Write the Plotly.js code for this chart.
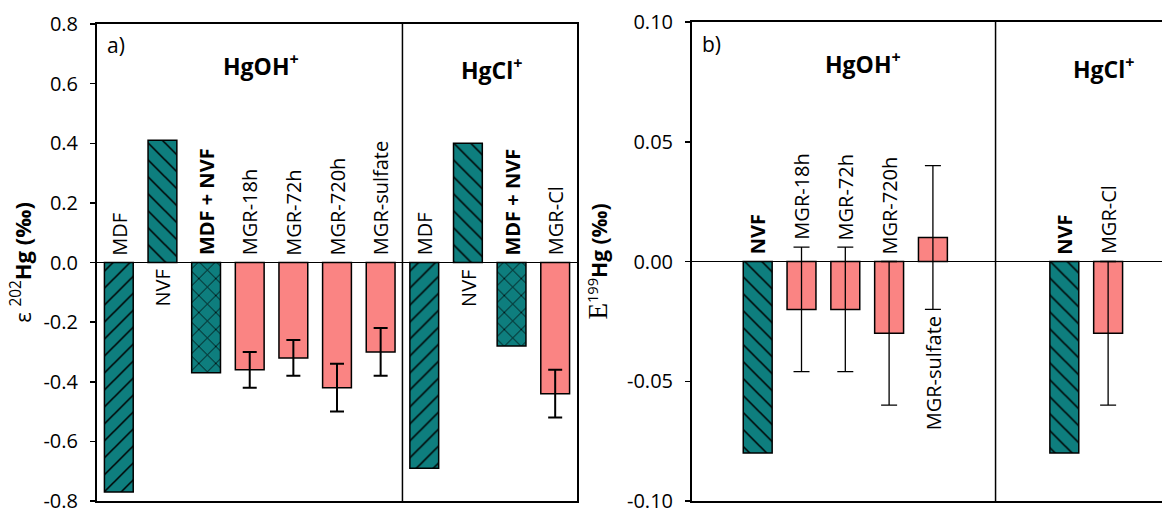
<!DOCTYPE html>
<html>
<head>
<meta charset="utf-8">
<script src="https://cdn.plot.ly/plotly-3.0.1.min.js"></script>
<style>html,body{margin:0;padding:0;background:#fff;}#chart{width:1162px;height:513px;}</style>
</head>
<body>
<div id="chart"></div>
<script>
// ---- Panel a) ε202Hg (‰) ----
const labelsA = ["MDF", "NVF", "MDF + NVF", "MGR-18h", "MGR-72h", "MGR-720h", "MGR-sulfate", "MDF", "NVF", "MDF + NVF", "MGR-Cl"];
const kindsA  = ["MDF", "NVF", "MDF+NVF", "MGR", "MGR", "MGR", "MGR", "MDF", "NVF", "MDF+NVF", "MGR"];
const valuesA = [-0.77, 0.41, -0.37, -0.36, -0.32, -0.42, -0.30, -0.69, 0.40, -0.28, -0.44];
const errorsA = [0, 0, 0, 0.06, 0.06, 0.08, 0.08, 0, 0, 0, 0.08];
const boldA   = [false, false, true, false, false, false, false, false, false, true, false];
const groupsA = ["HgOH<sup>+</sup>", "HgCl<sup>+</sup>"];
const yTicksA = [-0.8, -0.6, -0.4, -0.2, 0.0, 0.2, 0.4, 0.6, 0.8];

// ---- Panel b) E199Hg (‰) ----
const labelsB = ["", "NVF", "MGR-18h", "MGR-72h", "MGR-720h", "MGR-sulfate", "", "", "NVF", "MGR-Cl"];
const kindsB  = ["", "NVF", "MGR", "MGR", "MGR", "MGR", "", "", "NVF", "MGR"];
const valuesB = [null, -0.08, -0.02, -0.02, -0.03, 0.01, null, null, -0.08, -0.03];
const errorsB = [0, 0, 0.026, 0.026, 0.03, 0.03, 0, 0, 0, 0.03];
const boldB   = [false, true, false, false, false, false, false, false, true, false];
const groupsB = ["HgOH<sup>+</sup>", "HgCl<sup>+</sup>"];
const yTicksB = [-0.10, -0.05, 0.00, 0.05, 0.10];

const TEAL = "#0E7E7E";
const PINK = "#FA8483";
const FONT = "Open Sans, sans-serif";
const hatch = {"MDF": "/", "NVF": "\\", "MDF+NVF": "x"};

function tealTrace(labels, kinds, values, xa, ya) {
  const x = labels.map((_, i) => i);
  const y = values.map((v, i) => (kinds[i] !== "MGR" && kinds[i] !== "") ? v : null);
  return {
    type: "bar", x: x, y: y, xaxis: xa, yaxis: ya, width: 0.66,
    marker: {
      color: TEAL,
      line: {color: "#000", width: 1.5},
      pattern: {shape: kinds.map(k => hatch[k] || ""), fgcolor: "#000", bgcolor: TEAL, size: 12, solidity: 0.13}
    },
    hoverinfo: "skip", showlegend: false
  };
}
function pinkTrace(labels, kinds, values, errors, xa, ya, ew, cap) {
  const x = labels.map((_, i) => i);
  const y = values.map((v, i) => kinds[i] === "MGR" ? v : null);
  return {
    type: "bar", x: x, y: y, xaxis: xa, yaxis: ya, width: 0.66,
    marker: {color: PINK, line: {color: "#000", width: 1.5}},
    error_y: {type: "data", array: errors, visible: true, color: "#000", thickness: ew, width: cap},
    hoverinfo: "skip", showlegend: false
  };
}

function barLabels(labels, kinds, values, errors, bold, xref, yref) {
  const out = [];
  labels.forEach((lab, i) => {
    if (!lab || values[i] === null) return;
    const v = values[i], e = errors[i] || 0;
    const neg = v < 0;
    const yv = neg ? Math.max(0, v + e) : Math.min(0, v - e);
    out.push({
      xref: xref, yref: yref, x: i, y: yv,
      text: bold[i] ? "<b>" + lab + "</b>" : lab,
      textangle: -90, showarrow: false,
      xanchor: "center", yanchor: neg ? "bottom" : "top",
      yshift: neg ? 5 : -5,
      font: {family: FONT, size: 20, color: "#000"}
    });
  });
  return out;
}

const data = [
  tealTrace(labelsA, kindsA, valuesA, "x", "y"),
  pinkTrace(labelsA, kindsA, valuesA, errorsA, "x", "y", 2, 7),
  tealTrace(labelsB, kindsB, valuesB, "x2", "y2"),
  pinkTrace(labelsB, kindsB, valuesB, errorsB, "x2", "y2", 1.3, 8)
];

const titleFont = {family: FONT, size: 23, color: "#000"};
const annotations = []
  .concat(barLabels(labelsA, kindsA, valuesA, errorsA, boldA, "x", "y"))
  .concat(barLabels(labelsB, kindsB, valuesB, errorsB, boldB, "x2", "y2"))
  .concat([
    {xref: "x domain", yref: "y domain", x: 0.017, y: 0.955, xanchor: "left", yanchor: "middle", text: "a)", showarrow: false, font: {family: FONT, size: 21, color: "#000"}},
    {xref: "x", yref: "y domain", x: 3.25, y: 0.915, xanchor: "center", yanchor: "middle", text: "<b>" + groupsA[0] + "</b>", showarrow: false, font: titleFont},
    {xref: "x", yref: "y domain", x: 8.55, y: 0.905, xanchor: "center", yanchor: "middle", text: "<b>" + groupsA[1] + "</b>", showarrow: false, font: titleFont},
    {xref: "x2 domain", yref: "y2 domain", x: 0.017, y: 0.955, xanchor: "left", yanchor: "middle", text: "b)", showarrow: false, font: {family: FONT, size: 21, color: "#000"}},
    {xref: "x2", yref: "y2 domain", x: 3.4, y: 0.915, xanchor: "center", yanchor: "middle", text: "<b>" + groupsB[0] + "</b>", showarrow: false, font: titleFont},
    {xref: "x2", yref: "y2 domain", x: 8.9, y: 0.905, xanchor: "center", yanchor: "middle", text: "<b>" + groupsB[1] + "</b>", showarrow: false, font: titleFont}
  ]);

const axisFont = {family: FONT, size: 20, color: "#000"};
const layout = {
  width: 1162, height: 513,
  margin: {l: 0, r: 0, t: 22, b: 12, pad: 0},
  paper_bgcolor: "#fff", plot_bgcolor: "#fff",
  barmode: "overlay",
  showlegend: false,
  font: {family: FONT, color: "#000"},
  xaxis: {
    domain: [97 / 1162, 577 / 1162], anchor: "y",
    range: [-0.5, labelsA.length - 0.5],
    showticklabels: false, ticks: "", showgrid: false, zeroline: false,
    showline: true, linecolor: "#000", linewidth: 2, mirror: true, fixedrange: true
  },
  yaxis: {
    domain: [0, 477 / 479], anchor: "x",
    range: [-0.8, 0.8], tickvals: yTicksA, ticktext: yTicksA.map(v => v.toFixed(1)),
    ticks: "outside", ticklen: 5, tickwidth: 1.5, tickcolor: "#000", ticklabelstandoff: 8,
    ticklabeloverflow: "allow",
    tickfont: axisFont, showgrid: false,
    zeroline: true, zerolinecolor: "#000", zerolinewidth: 1.5,
    showline: true, linecolor: "#000", linewidth: 2, mirror: true,
    title: {text: "ε <sup>202</sup><b>Hg (‰)</b>", font: {family: FONT, size: 22, color: "#000"}, standoff: 6},
    fixedrange: true
  },
  xaxis2: {
    domain: [692 / 1162, 1], anchor: "y2",
    range: [-0.5, 10.23],
    showticklabels: false, ticks: "", showgrid: false, zeroline: false,
    showline: true, linecolor: "#000", linewidth: 2, mirror: true, fixedrange: true
  },
  yaxis2: {
    domain: [0, 1], anchor: "x2",
    range: [-0.1, 0.1], tickvals: yTicksB, ticktext: yTicksB.map(v => v.toFixed(2)),
    ticks: "outside", ticklen: 5, tickwidth: 1.5, tickcolor: "#000", ticklabelstandoff: 8,
    ticklabeloverflow: "allow",
    tickfont: axisFont, showgrid: false,
    zeroline: true, zerolinecolor: "#000", zerolinewidth: 1.5,
    showline: true, linecolor: "#000", linewidth: 2, mirror: false,
    title: {text: "<span style=\"font-family:'Liberation Serif',serif;font-size:27px\">Ε</span><sup>199</sup><b>Hg (‰)</b>", font: {family: FONT, size: 21, color: "#000"}, standoff: 14},
    fixedrange: true
  },
  shapes: [
    {type: "line", xref: "x", yref: "y domain", x0: 6.5, x1: 6.5, y0: 0, y1: 1, line: {color: "#000", width: 1.5}},
    {type: "line", xref: "x2", yref: "y2 domain", x0: 6.43, x1: 6.43, y0: 0, y1: 1, line: {color: "#000", width: 1.5}}
  ],
  annotations: annotations
};

Plotly.newPlot("chart", data, layout, {staticPlot: true, displayModeBar: false});
</script>
</body>
</html>
